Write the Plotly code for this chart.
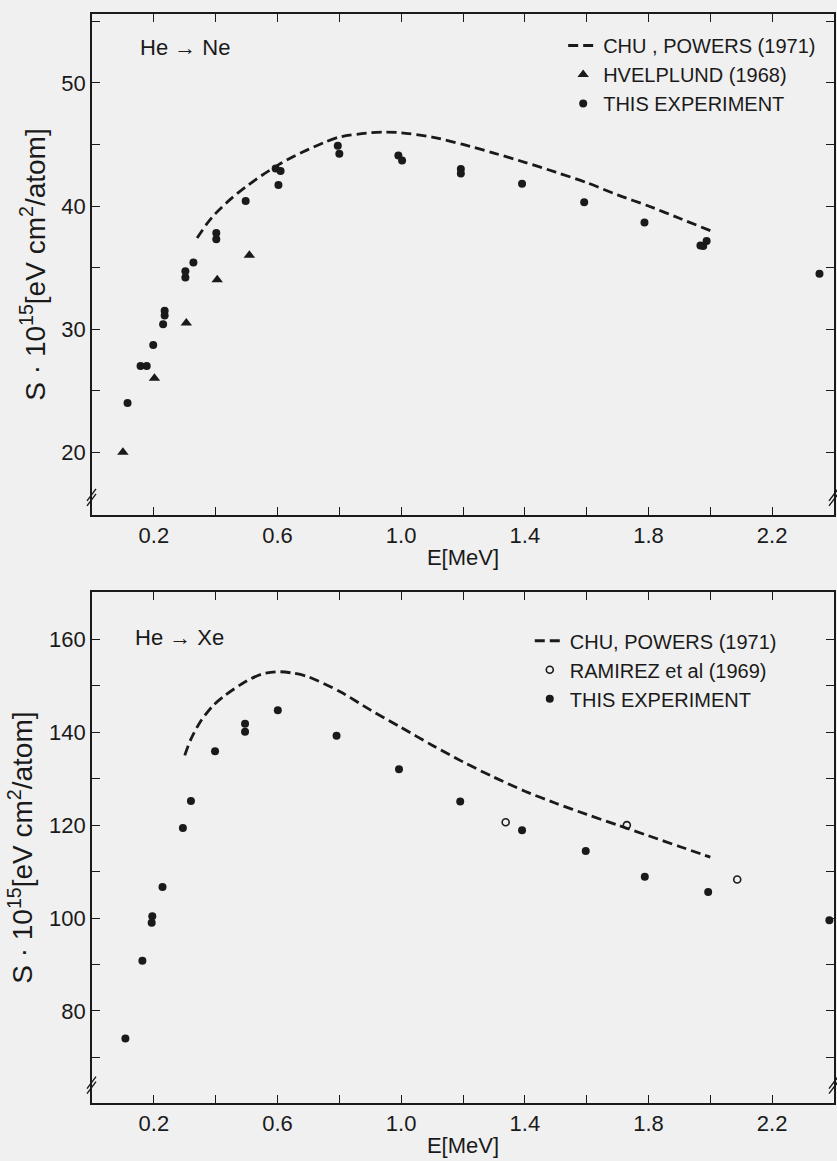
import plotly.graph_objects as go

# ---------------- Data: He -> Ne ----------------
ne_chu_E = [0.34, 0.37, 0.40, 0.45, 0.50, 0.55, 0.60, 0.65, 0.70, 0.75, 0.80, 0.90, 0.95, 1.00,
            1.10, 1.20, 1.30, 1.40, 1.50, 1.60, 1.70, 1.80, 1.90, 2.00]
ne_chu_S = [37.4, 38.5, 39.4, 40.6, 41.6, 42.5, 43.3, 44.0, 44.6, 45.15, 45.6, 45.95, 46.0, 45.95,
            45.6, 45.0, 44.3, 43.55, 42.75, 41.9, 40.9, 40.0, 39.0, 38.0]
ne_hvel_E = [0.10, 0.202, 0.305, 0.405, 0.509]
ne_hvel_S = [20.0, 26.0, 30.5, 34.0, 36.0]
ne_exp_E = [0.115, 0.157, 0.177, 0.198, 0.23, 0.235, 0.235, 0.302, 0.302, 0.328, 0.402, 0.402,
            0.497, 0.594, 0.603, 0.610, 0.795, 0.80, 0.991, 1.003, 1.193, 1.193, 1.391,
            1.592, 1.787, 1.968, 1.977, 1.988, 2.353]
ne_exp_S = [24.0, 27.0, 27.0, 28.7, 30.4, 31.1, 31.5, 34.2, 34.7, 35.4, 37.3, 37.8,
            40.4, 43.05, 41.7, 42.85, 44.9, 44.25, 44.1, 43.7, 43.0, 42.65, 41.8,
            40.3, 38.65, 36.8, 36.75, 37.15, 34.5]

# ---------------- Data: He -> Xe ----------------
xe_chu_E = [0.30, 0.32, 0.35, 0.39, 0.43, 0.50, 0.55, 0.60, 0.65, 0.70, 0.80, 0.90, 1.00,
            1.10, 1.20, 1.30, 1.40, 1.50, 1.60, 1.70, 1.80, 1.90, 2.00]
xe_chu_S = [135.0, 138.5, 142.2, 145.6, 147.9, 151.0, 152.5, 153.0, 152.7, 151.9, 148.8, 144.8, 141.0,
            137.2, 133.6, 130.3, 127.3, 124.7, 122.3, 120.0, 117.7, 115.4, 113.1]
xe_ram_E = [1.338, 1.73, 2.087]
xe_ram_S = [120.6, 120.0, 108.3]
xe_exp_E = [0.108, 0.163, 0.193, 0.195, 0.228, 0.294, 0.32, 0.398, 0.495, 0.495, 0.601,
            0.791, 0.993, 1.191, 1.391, 1.597, 1.788, 1.993, 2.385]
xe_exp_S = [74.1, 90.8, 99.0, 100.4, 106.7, 119.4, 125.2, 135.9, 140.1, 141.8, 144.7,
            139.2, 132.0, 125.1, 118.9, 114.4, 108.9, 105.6, 99.5]

# tick positions / labels
x_major = [0.2, 0.6, 1.0, 1.4, 1.8, 2.2]
x_minor = [0.4, 0.8, 1.2, 1.6, 2.0]
ne_major = [20, 30, 40, 50]
ne_minor = [25, 35, 45, 55]
xe_major = [80, 100, 120, 140, 160]
xe_minor = [70, 90, 110, 130, 150]

FONT = "Liberation Sans, Arial, sans-serif"
BG = "#f0f0f0"
INK = "#1a1a1a"

fig = go.Figure()

# top panel
fig.add_trace(go.Scatter(x=ne_chu_E, y=ne_chu_S, mode="lines", name="CHU , POWERS (1971)",
                         line=dict(color=INK, width=2.8, dash="10px,5px", shape="spline", smoothing=0.8),
                         xaxis="x", yaxis="y", legend="legend"))
fig.add_trace(go.Scatter(x=ne_hvel_E, y=ne_hvel_S, mode="markers", name="HVELPLUND (1968)",
                         marker=dict(symbol="triangle-up", size=10, color=INK),
                         xaxis="x", yaxis="y", legend="legend"))
fig.add_trace(go.Scatter(x=ne_exp_E, y=ne_exp_S, mode="markers", name="THIS EXPERIMENT",
                         marker=dict(symbol="circle", size=8, color=INK),
                         xaxis="x", yaxis="y", legend="legend"))

# bottom panel
fig.add_trace(go.Scatter(x=xe_chu_E, y=xe_chu_S, mode="lines", name="CHU, POWERS (1971)",
                         line=dict(color=INK, width=2.8, dash="10px,5px", shape="spline", smoothing=0.8),
                         xaxis="x2", yaxis="y2", legend="legend2"))
fig.add_trace(go.Scatter(x=xe_ram_E, y=xe_ram_S, mode="markers", name="RAMIREZ et al (1969)",
                         marker=dict(symbol="circle-open", size=7, color=INK, line=dict(width=1.6)),
                         xaxis="x2", yaxis="y2", legend="legend2"))
fig.add_trace(go.Scatter(x=xe_exp_E, y=xe_exp_S, mode="markers", name="THIS EXPERIMENT",
                         marker=dict(symbol="circle", size=8, color=INK),
                         xaxis="x2", yaxis="y2", legend="legend2"))

axis_common = dict(showline=True, linecolor=INK, linewidth=1.6, mirror="ticks",
                   ticks="inside", tickcolor=INK, tickwidth=1.4, ticklen=8,
                   showgrid=False, zeroline=False)
xfont = dict(family=FONT, size=22, color=INK)
yfont = dict(family=FONT, size=22, color=INK)


def minor(vals):
    return dict(tickmode="array", tickvals=vals, ticks="inside", ticklen=8,
                tickwidth=1.4, tickcolor=INK, showgrid=False)


ytitle = "S · 10<sup>15</sup>[eV cm<sup>2</sup>/atom]"

fig.update_layout(
    width=837, height=1161,
    margin=dict(l=92, r=1, t=14, b=58),
    paper_bgcolor=BG, plot_bgcolor=BG,
    font=dict(family=FONT, color=INK),
    xaxis=dict(domain=[0, 1], range=[0.0, 2.4], anchor="y",
               tickmode="array", tickvals=x_major, ticktext=[f"{v:.1f}" for v in x_major],
               tickfont=xfont, minor=minor(x_minor),
               title=dict(text="E[MeV]", font=dict(family=FONT, size=22, color=INK), standoff=2),
               **axis_common),
    yaxis=dict(domain=[0.540, 1.0], range=[14.9, 55.6], anchor="x",
               tickmode="array", tickvals=ne_major, ticktext=[str(v) for v in ne_major],
               tickfont=yfont, minor=minor(ne_minor),
               title=dict(text=ytitle, font=dict(family=FONT, size=28, color=INK), standoff=8),
               **axis_common),
    xaxis2=dict(domain=[0, 1], range=[0.0, 2.4], anchor="y2",
                tickmode="array", tickvals=x_major, ticktext=[f"{v:.1f}" for v in x_major],
                tickfont=xfont, minor=minor(x_minor),
                title=dict(text="E[MeV]", font=dict(family=FONT, size=22, color=INK), standoff=2),
                **axis_common),
    yaxis2=dict(domain=[0.0, 0.469], range=[60.2, 170.1], anchor="x2",
                tickmode="array", tickvals=xe_major, ticktext=[str(v) for v in xe_major],
                tickfont=yfont, minor=minor(xe_minor),
                title=dict(text=ytitle, font=dict(family=FONT, size=28, color=INK), standoff=8),
                **axis_common),
    legend=dict(x=0.635, y=0.989, xanchor="left", yanchor="top",
                bgcolor="rgba(0,0,0,0)", font=dict(family=FONT, size=20, color=INK),
                tracegroupgap=0, itemwidth=30),
    legend2=dict(x=0.590, y=0.4424, xanchor="left", yanchor="top",
                 bgcolor="rgba(0,0,0,0)", font=dict(family=FONT, size=20, color=INK),
                 tracegroupgap=0, itemwidth=30),
    showlegend=True,
)

fig.add_annotation(text="He → Ne", xref="x domain", yref="y domain", x=0.062, y=0.934,
                   xanchor="left", yanchor="middle", showarrow=False,
                   font=dict(family=FONT, size=22, color=INK))
fig.add_annotation(text="He → Xe", xref="x2 domain", yref="y2 domain", x=0.055, y=0.912,
                   xanchor="left", yanchor="middle", showarrow=False,
                   font=dict(family=FONT, size=22, color=INK))

# axis-break marks "//" near bottom corners
for xr, yr in (("x domain", "y domain"), ("x2 domain", "y2 domain")):
    for xa in (0.0, 1.0):
        for dy in (0, 5):
            fig.add_shape(type="line", xref=xr, yref=yr, xsizemode="pixel", ysizemode="pixel",
                          xanchor=xa, yanchor=0.03, x0=-5, x1=4, y0=-6 + dy, y1=6 + dy,
                          line=dict(color=INK, width=1.4))

fig.write_html("out.html", config={"displayModeBar": False},
               post_script="document.body.style.margin='0px';document.body.style.background='%s';" % BG)
